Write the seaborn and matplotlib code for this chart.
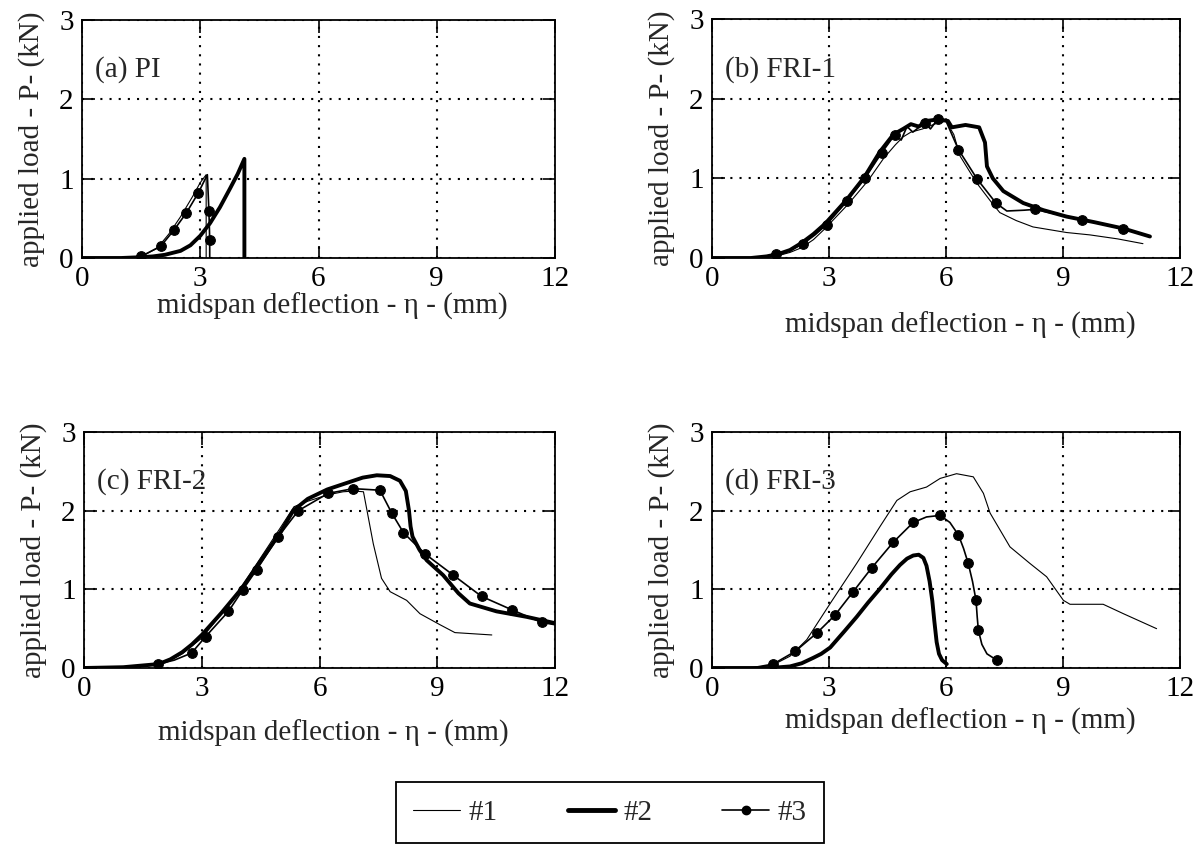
import matplotlib
matplotlib.use("Agg")
import matplotlib.pyplot as plt
from matplotlib.lines import Line2D
import seaborn as sns

# ─── Data ────────────────────────────────────────────────────────────────────

# (a) PI
a1_x = [0, 1.0, 1.5, 1.9, 2.2, 2.5, 2.8, 3.0, 3.15, 3.15]
a1_y = [0, 0, 0.02, 0.12, 0.30, 0.52, 0.77, 0.95, 1.05, 0]
a2_x = [0, 1.0, 1.5, 1.8, 2.1, 2.5, 2.75, 3.0, 3.25, 3.5, 3.76, 3.95, 4.12, 4.12]
a2_y = [0, 0, 0.01, 0.02, 0.04, 0.09, 0.16, 0.28, 0.44, 0.64, 0.88, 1.06, 1.25, 0]
a3_x = [0, 1.0, 1.5, 2.0, 2.33, 2.65, 2.95, 3.18, 3.22, 3.24, 3.24]
a3_y = [0, 0, 0.02, 0.15, 0.35, 0.57, 0.82, 1.05, 0.59, 0.23, 0]
a3_marks = [2, 3, 4, 5, 6, 8, 9]

# (b) FRI-1
b1_x = [0, 1.0, 1.4, 1.7, 2.0, 2.3, 2.6, 2.9, 3.5, 4.0, 4.4, 4.7, 4.9, 5.1, 5.4,
        5.7, 6.0, 6.2, 6.36, 6.79, 7.21, 7.38, 7.8, 8.23, 9.09, 9.69, 10.4, 11.05]
b1_y = [0, 0, 0.01, 0.03, 0.07, 0.13, 0.23, 0.37, 0.68, 0.97, 1.25, 1.42, 1.52,
        1.58, 1.62, 1.68, 1.72, 1.55, 1.28, 0.94, 0.67, 0.57, 0.47, 0.39, 0.32,
        0.29, 0.24, 0.18]
b2_x = [0, 1.0, 1.4, 1.7, 2.0, 2.3, 2.6, 2.9, 3.45, 3.9, 4.3, 4.65, 4.9, 5.1,
        5.3, 5.5, 5.8, 6.05, 6.15, 6.5, 6.85, 7.0, 7.05, 7.2, 7.47, 7.98, 8.5,
        9.09, 9.8, 10.55, 11.23]
b2_y = [0, 0, 0.02, 0.05, 0.10, 0.19, 0.30, 0.43, 0.73, 1.01, 1.33, 1.55, 1.62,
        1.68, 1.65, 1.72, 1.74, 1.72, 1.64, 1.67, 1.64, 1.45, 1.15, 1.00, 0.84,
        0.69, 0.60, 0.52, 0.45, 0.37, 0.27]
b3_x = [0, 1.0, 1.4, 1.65, 2.0, 2.34, 2.64, 2.94, 3.47, 3.92, 4.35, 4.69, 4.85,
        5.0, 5.15, 5.46, 5.6, 5.8, 6.0, 6.32, 6.8, 7.28, 7.56, 8.0, 8.28, 9.48,
        10.55, 11.23]
b3_y = [0, 0, 0.02, 0.05, 0.10, 0.18, 0.29, 0.42, 0.72, 1.00, 1.32, 1.55, 1.48,
        1.65, 1.58, 1.70, 1.62, 1.75, 1.72, 1.36, 0.99, 0.69, 0.59, 0.60, 0.61,
        0.48, 0.37, 0.27]
b3_marks = [3, 5, 7, 8, 9, 10, 11, 15, 17, 19, 20, 21, 24, 25, 26]

# (c) FRI-2
c1_x = [0, 1.0, 1.9, 2.2, 2.5, 3.0, 3.6, 4.0, 4.5, 5.0, 5.35, 5.7, 6.2, 6.6,
        6.9, 7.12, 7.37, 7.58, 7.8, 8.22, 8.56, 9.07, 9.45, 10.39]
c1_y = [0, 0.01, 0.04, 0.10, 0.18, 0.38, 0.75, 1.02, 1.40, 1.78, 2.05, 2.12,
        2.20, 2.24, 2.25, 2.24, 1.58, 1.14, 0.97, 0.86, 0.69, 0.55, 0.45, 0.42]
c2_x = [0, 1.0, 1.9, 2.2, 2.5, 2.75, 3.0, 3.5, 4.0, 4.5, 5.0, 5.33, 5.7, 6.2,
        6.8, 7.1, 7.46, 7.8, 8.05, 8.2, 8.28, 8.32, 8.37, 8.55, 8.73, 9.15, 9.54,
        9.83, 10.51, 11.28, 12.0]
c2_y = [0, 0.01, 0.05, 0.11, 0.20, 0.30, 0.42, 0.70, 1.00, 1.36, 1.72, 2.00,
        2.15, 2.27, 2.37, 2.42, 2.45, 2.44, 2.38, 2.25, 2.00, 1.80, 1.67, 1.50,
        1.37, 1.18, 0.95, 0.82, 0.72, 0.65, 0.57]
c3_x = [0, 1.0, 1.89, 2.3, 2.74, 3.1, 3.68, 4.04, 4.4, 4.95, 5.46, 6.22, 6.86,
        7.54, 7.84, 8.14, 8.69, 9.41, 10.13, 10.9, 11.66, 12.0]
c3_y = [0, 0.01, 0.05, 0.10, 0.19, 0.40, 0.72, 0.99, 1.25, 1.67, 2.00, 2.22,
        2.28, 2.26, 1.97, 1.72, 1.45, 1.18, 0.91, 0.74, 0.58, 0.55]
c3_marks = [2] + list(range(4, 21))

# (d) FRI-3
d1_x = [0, 1.0, 1.57, 2.0, 2.43, 3.03, 3.71, 4.31, 4.74, 5.08, 5.5, 5.85, 6.27,
        6.7, 6.96, 7.13, 7.64, 8.15, 8.58, 9.01, 9.18, 10.03, 10.55, 11.4]
d1_y = [0, 0, 0.04, 0.15, 0.36, 0.82, 1.33, 1.80, 2.13, 2.24, 2.30, 2.41, 2.47,
        2.43, 2.22, 1.97, 1.54, 1.33, 1.16, 0.86, 0.81, 0.81, 0.69, 0.50]
d2_x = [0, 1.0, 1.5, 2.0, 2.3, 2.6, 2.8, 3.03, 3.4, 3.71, 4.0, 4.31, 4.6, 4.82,
        5.0, 5.16, 5.3, 5.42, 5.5, 5.58, 5.65, 5.7, 5.76, 5.82, 5.9, 6.02]
d2_y = [0, 0, 0, 0.02, 0.06, 0.13, 0.18, 0.26, 0.47, 0.65, 0.83, 1.01, 1.19,
        1.31, 1.39, 1.43, 1.44, 1.40, 1.30, 1.10, 0.85, 0.60, 0.33, 0.18, 0.10,
        0.05]
d3_x = [0, 1.0, 1.57, 2.13, 2.7, 3.15, 3.62, 4.09, 4.65, 5.16, 5.5, 5.85, 6.1,
        6.32, 6.45, 6.57, 6.68, 6.77, 6.8, 6.83, 6.92, 7.05, 7.3]
d3_y = [0, 0, 0.05, 0.21, 0.45, 0.67, 0.97, 1.27, 1.60, 1.85, 1.92, 1.94, 1.85,
        1.69, 1.52, 1.33, 1.10, 0.86, 0.65, 0.48, 0.30, 0.18, 0.10]
d3_marks = [2, 3, 4, 5, 6, 7, 8, 9, 11, 13, 15, 17, 19, 22]

panel_titles = ["(a) PI", "(b) FRI-1", "(c) FRI-2", "(d) FRI-3"]
series_labels = ["#1", "#2", "#3"]
x_ticks = [0, 3, 6, 9, 12]
y_ticks = [0, 1, 2, 3]

panels = [
    (a1_x, a1_y, a2_x, a2_y, a3_x, a3_y, a3_marks),
    (b1_x, b1_y, b2_x, b2_y, b3_x, b3_y, b3_marks),
    (c1_x, c1_y, c2_x, c2_y, c3_x, c3_y, c3_marks),
    (d1_x, d1_y, d2_x, d2_y, d3_x, d3_y, d3_marks),
]

# ─── Style ───────────────────────────────────────────────────────────────────

sns.set_style("ticks")
plt.rcParams["font.family"] = ["Liberation Serif", "DejaVu Serif"]

W, H = 1202, 846
fig = plt.figure(figsize=(W / 100, H / 100), dpi=100)

# axes boxes in pixels: left, right, top, bottom
boxes = [(82, 555, 20, 258), (712, 1180, 19, 258),
         (84, 555, 432, 668), (712, 1180, 432, 668)]
# x-label top edge, in axes fraction below the axes
xlabel_y = [-0.145, -0.226, -0.220, -0.169]

LW1, LW2, LW3 = 0.8, 2.8, 1.2
FS = 21

for i, (box, data) in enumerate(zip(boxes, panels)):
    l, r, t, b = box
    ax = fig.add_axes([l / W, 1 - b / H, (r - l) / W, (b - t) / H])
    x1, y1, x2, y2, x3, y3, marks = data

    sns.lineplot(x=x1, y=y1, sort=False, estimator=None, color="black",
                 lw=LW1, ax=ax)
    sns.lineplot(x=x2, y=y2, sort=False, estimator=None, color="black",
                 lw=LW2, ax=ax)
    sns.lineplot(x=x3, y=y3, sort=False, estimator=None, color="black",
                 lw=LW3, marker="o", markersize=7, markevery=marks,
                 markeredgecolor="black", markerfacecolor="black", ax=ax)

    ax.set_xlim(0, 12)
    ax.set_ylim(0, 3)
    ax.set_xticks(x_ticks)
    ax.set_yticks(y_ticks)
    ax.tick_params(direction="in", top=True, right=True, length=9, width=1.2,
                   labelsize=FS, pad=6, colors="black")
    ax.grid(True, color="black", linestyle=(0, (1, 3.4)), linewidth=1.5)
    for sp in ax.spines.values():
        sp.set_color("black")
        sp.set_linewidth(1.3)

    ax.set_xlabel("midspan deflection - η - (mm)", fontsize=FS)
    ax.xaxis.set_label_coords(0.53, xlabel_y[i])
    ax.set_ylabel("applied load - P- (kN)", fontsize=FS, labelpad=10)
    ax.text(0.028, 0.79, panel_titles[i], transform=ax.transAxes,
            fontsize=FS, va="center", ha="left")

# ─── Legend ──────────────────────────────────────────────────────────────────

handles = [
    Line2D([], [], color="black", lw=LW1),
    Line2D([], [], color="black", lw=3.5),
    Line2D([], [], color="black", lw=LW3, marker="o", markersize=6),
]
leg = fig.legend(handles, series_labels, loc="upper center",
                 bbox_to_anchor=(610 / W, 1 - 782 / H), ncol=3, fontsize=FS,
                 frameon=True, fancybox=False, edgecolor="black", framealpha=1,
                 handlelength=1.6, handletextpad=0.3, columnspacing=2.4,
                 borderpad=0.6, borderaxespad=0)
leg.get_frame().set_linewidth(1.3)

fig.savefig("out.png", dpi=100)
